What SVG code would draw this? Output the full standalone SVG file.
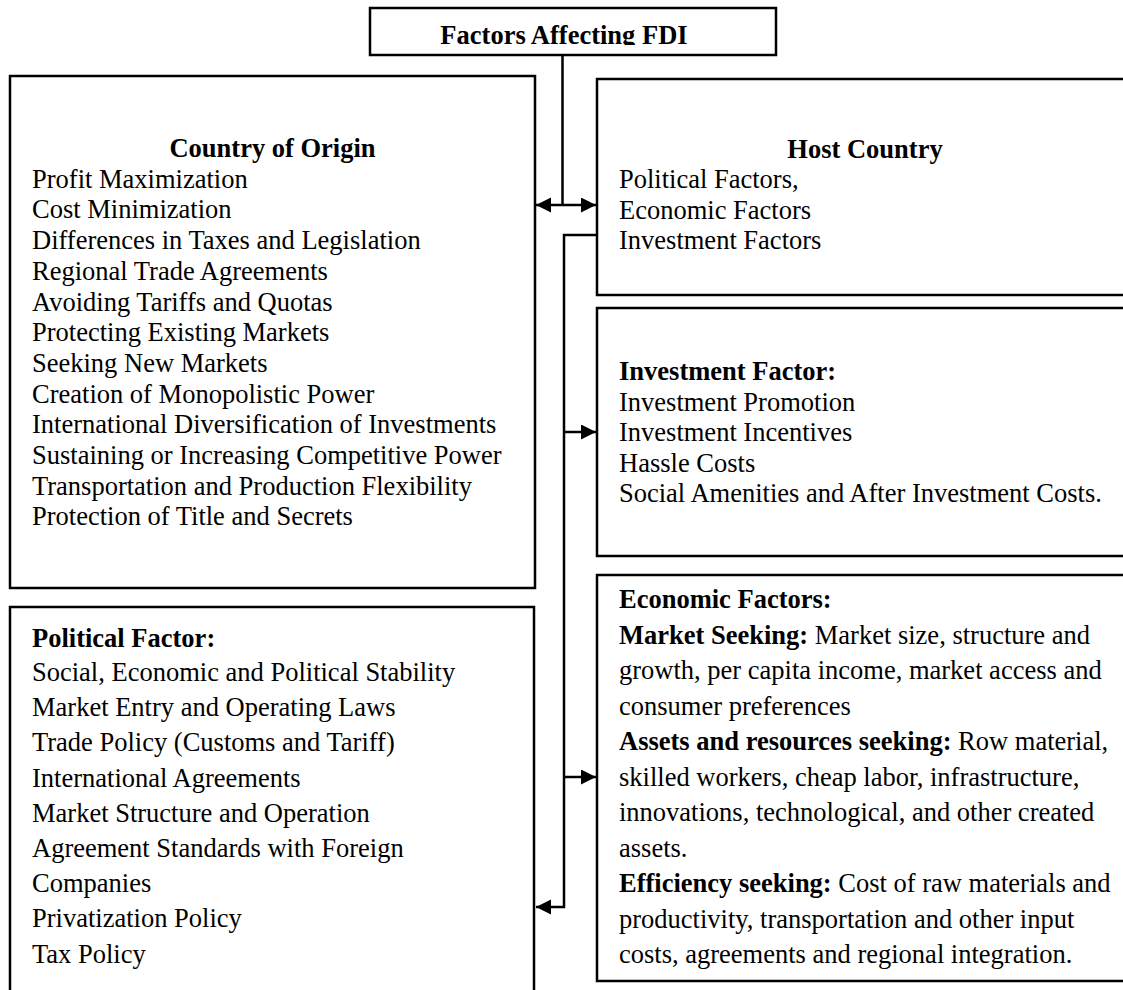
<svg xmlns="http://www.w3.org/2000/svg" width="1123" height="990" viewBox="0 0 1123 990">
<style>
.box{fill:#fff;stroke:#000;stroke-width:2.5}
.t{font-family:"Liberation Serif","Times New Roman",serif;font-size:26.5px;fill:#000}
.b{font-weight:bold}
.c{fill:none;stroke:#000;stroke-width:2.5}
</style>
<defs>
<marker id="ah" markerUnits="userSpaceOnUse" markerWidth="16" markerHeight="16" refX="15" refY="7.5" orient="auto-start-reverse">
<path d="M0,0 L15,7.5 L0,15 z" fill="#000"/>
</marker>
<clipPath id="topclip"><rect x="370" y="8" width="406" height="37"/></clipPath>
</defs>
<g id="top">
<rect class="box" x="370" y="8" width="406" height="47"/>
<text class="t b" x="564" y="44" text-anchor="middle" clip-path="url(#topclip)">Factors Affecting FDI</text>
</g>
<g id="origin">
<rect class="box" x="10" y="76" width="525" height="512"/>
<text class="t b" x="272.5" y="157" text-anchor="middle">Country of Origin</text>
<text class="t" x="32" y="187.7">Profit Maximization</text>
<text class="t" x="32" y="218.4">Cost Minimization</text>
<text class="t" x="32" y="249.1">Differences in Taxes and Legislation</text>
<text class="t" x="32" y="279.8">Regional Trade Agreements</text>
<text class="t" x="32" y="310.5">Avoiding Tariffs and Quotas</text>
<text class="t" x="32" y="341.2">Protecting Existing Markets</text>
<text class="t" x="32" y="371.9">Seeking New Markets</text>
<text class="t" x="32" y="402.6">Creation of Monopolistic Power</text>
<text class="t" x="32" y="433.3">International Diversification of Investments</text>
<text class="t" x="32" y="464">Sustaining or Increasing Competitive Power</text>
<text class="t" x="32" y="494.7">Transportation and Production Flexibility</text>
<text class="t" x="32" y="525.4">Protection of Title and Secrets</text>
</g>
<g id="political">
<rect class="box" x="10" y="607" width="524" height="400"/>
<text class="t b" x="32" y="647">Political Factor:</text>
<text class="t" x="32" y="681">Social, Economic and Political Stability</text>
<text class="t" x="32" y="716.2">Market Entry and Operating Laws</text>
<text class="t" x="32" y="751.4">Trade Policy (Customs and Tariff)</text>
<text class="t" x="32" y="786.6">International Agreements</text>
<text class="t" x="32" y="821.8">Market Structure and Operation</text>
<text class="t" x="32" y="857">Agreement Standards with Foreign</text>
<text class="t" x="32" y="892.2">Companies</text>
<text class="t" x="32" y="927.4">Privatization Policy</text>
<text class="t" x="32" y="962.6">Tax Policy</text>
</g>
<g id="host">
<rect class="box" x="597" y="79" width="545" height="216"/>
<text class="t b" x="865" y="158" text-anchor="middle">Host Country</text>
<text class="t" x="619" y="188">Political Factors,</text>
<text class="t" x="619" y="218.5">Economic Factors</text>
<text class="t" x="619" y="249">Investment Factors</text>
</g>
<g id="investment">
<rect class="box" x="597" y="308" width="545" height="248"/>
<text class="t b" x="619" y="380">Investment Factor:</text>
<text class="t" x="619" y="410.5">Investment Promotion</text>
<text class="t" x="619" y="441">Investment Incentives</text>
<text class="t" x="619" y="471.5">Hassle Costs</text>
<text class="t" x="619" y="502">Social Amenities and After Investment Costs.</text>
</g>
<g id="economic">
<rect class="box" x="597" y="575" width="545" height="406"/>
<text class="t b" x="619" y="608">Economic Factors:</text>
<text class="t" x="619" y="643.5"><tspan class="b">Market Seeking:</tspan> Market size, structure and</text>
<text class="t" x="619" y="679">growth, per capita income, market access and</text>
<text class="t" x="619" y="714.5">consumer preferences</text>
<text class="t" x="619" y="750"><tspan class="b">Assets and resources seeking:</tspan> Row material,</text>
<text class="t" x="619" y="785.5">skilled workers, cheap labor, infrastructure,</text>
<text class="t" x="619" y="821">innovations, technological, and other created</text>
<text class="t" x="619" y="856.5">assets.</text>
<text class="t" x="619" y="892"><tspan class="b">Efficiency seeking:</tspan> Cost of raw materials and</text>
<text class="t" x="619" y="927.5">productivity, transportation and other input</text>
<text class="t" x="619" y="963">costs, agreements and regional integration.</text>
</g>
<g id="connectors">
<line class="c" x1="562.5" y1="55" x2="562.5" y2="205"/>
<line class="c" x1="536" y1="205" x2="596" y2="205" marker-start="url(#ah)" marker-end="url(#ah)"/>
<polyline class="c" points="597,235 564,235 564,907 536,907" marker-end="url(#ah)"/>
<line class="c" x1="564" y1="432" x2="596" y2="432" marker-end="url(#ah)"/>
<line class="c" x1="564" y1="777" x2="596" y2="777" marker-end="url(#ah)"/>
</g>
</svg>
